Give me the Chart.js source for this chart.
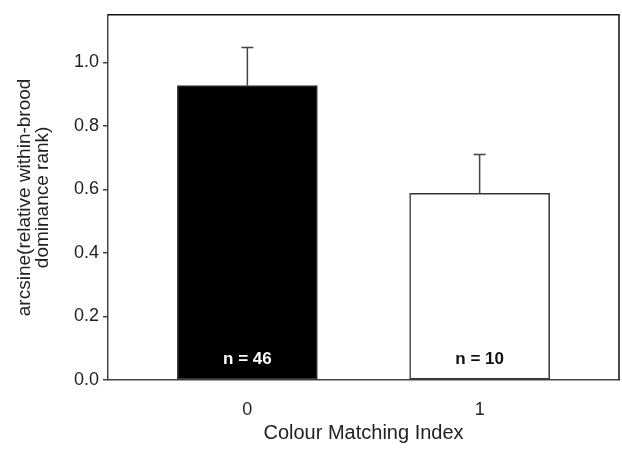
<!DOCTYPE html>
<html>
<head>
<meta charset="utf-8">
<script src="https://cdn.jsdelivr.net/npm/chart.js@4"></script>
<style>
  html, body { margin: 0; padding: 0; background: #fff; }
  #wrap { width: 622px; height: 453px; }
</style>
</head>
<body>
<div id="wrap"><canvas id="grafico" width="622" height="453"></canvas></div>
<script>
// Datos
const categorias = [0, 1];
const medias = [0.927, 0.588];
const errores = [0.120, 0.122];
const etiquetasN = ['n = 46', 'n = 10'];
const coloresBarra = ['#000000', '#ffffff'];
const coloresTextoN = ['#ffffff', '#111111'];
const ticksY = [0, 0.2, 0.4, 0.6, 0.8, 1.0];

const fuente = '"Liberation Sans", Arial, sans-serif';

// Marco, barras de error y etiquetas n
const extrasPlugin = {
    id: 'extras',
    afterDatasetsDraw(chart) {
        const ctx = chart.ctx;
        const x = chart.scales.x;
        const y = chart.scales.y;
        const area = chart.chartArea;

        ctx.save();
        // barras de error (solo hacia arriba)
        ctx.strokeStyle = '#444';
        ctx.lineWidth = 1.5;
        categorias.forEach((c, i) => {
            const px = x.getPixelForValue(c);
            const y0 = y.getPixelForValue(medias[i]);
            const y1 = y.getPixelForValue(medias[i] + errores[i]);
            ctx.beginPath();
            ctx.moveTo(px, y0);
            ctx.lineTo(px, y1);
            ctx.moveTo(px - 6, y1);
            ctx.lineTo(px + 6, y1);
            ctx.stroke();
        });

        // etiquetas n dentro de las barras
        ctx.font = 'bold 17px ' + fuente;
        ctx.textAlign = 'center';
        ctx.textBaseline = 'middle';
        categorias.forEach((c, i) => {
            ctx.fillStyle = coloresTextoN[i];
            ctx.fillText(etiquetasN[i], x.getPixelForValue(c), y.getPixelForValue(0) - 21);
        });

        // marco superior y derecho
        ctx.strokeStyle = '#111';
        ctx.lineWidth = 1.5;
        ctx.beginPath();
        ctx.moveTo(area.left, area.top);
        ctx.lineTo(area.right, area.top);
        ctx.lineTo(area.right, area.bottom);
        ctx.stroke();
        ctx.restore();
    }
};

new Chart(document.getElementById('grafico').getContext('2d'), {
    type: 'bar',
    data: {
        datasets: [{
            data: categorias.map((c, i) => ({ x: c, y: medias[i] })),
            backgroundColor: coloresBarra,
            borderColor: '#333',
            borderWidth: 1.5,
            borderSkipped: false,
            barThickness: 140
        }]
    },
    options: {
        responsive: false,
        animation: false,
        layout: { padding: { top: 12, right: 3, left: 0, bottom: 0 } },
        plugins: {
            legend: { display: false },
            tooltip: { enabled: false }
        },
        scales: {
            x: {
                type: 'linear',
                offset: false,
                min: -0.6,
                max: 1.6,
                afterBuildTicks: (scale) => {
                    scale.ticks = categorias.map(v => ({ value: v }));
                },
                afterFit: (scale) => { scale.height = 73; },
                grid: { display: false, drawTicks: false },
                border: { display: true, color: '#444', width: 1.5 },
                ticks: {
                    padding: 19,
                    color: '#222',
                    font: { family: fuente, size: 18 },
                    callback: (v) => String(v)
                },
                title: {
                    display: true,
                    text: 'Colour Matching Index',
                    color: '#222',
                    font: { family: fuente, size: 20 },
                    padding: { top: 0, bottom: 8 }
                }
            },
            y: {
                min: 0,
                max: 1.15,
                afterBuildTicks: (scale) => {
                    scale.ticks = ticksY.map(v => ({ value: v }));
                },
                afterFit: (scale) => { scale.width = 108; },
                grid: {
                    display: true,
                    drawOnChartArea: false,
                    drawTicks: true,
                    tickLength: 5,
                    color: '#444',
                    lineWidth: 1.5
                },
                border: { display: true, color: '#444', width: 1.5 },
                ticks: {
                    padding: 4,
                    color: '#222',
                    font: { family: fuente, size: 18 },
                    callback: (v) => v.toFixed(1)
                },
                title: {
                    display: true,
                    text: ['arcsine(relative within-brood', 'dominance rank)'],
                    color: '#222',
                    font: { family: fuente, size: 19, lineHeight: 0.95 },
                    padding: { top: 16, bottom: 0 }
                }
            }
        }
    },
    plugins: [extrasPlugin]
});
</script>
</body>
</html>
